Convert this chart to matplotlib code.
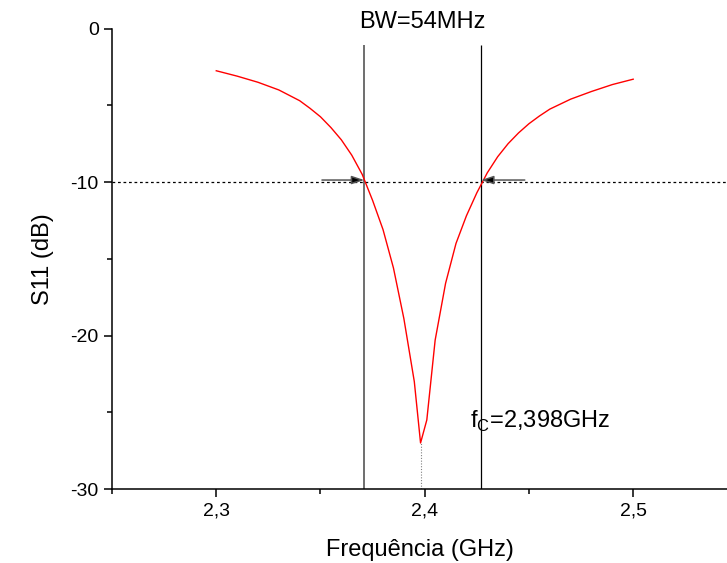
import numpy as np
import matplotlib.pyplot as plt
from matplotlib.ticker import MultipleLocator

plt.rcParams['font.family'] = ['Liberation Sans', 'DejaVu Sans']
plt.rcParams['mathtext.fontset'] = 'custom'
plt.rcParams['mathtext.rm'] = 'Liberation Sans'
plt.rcParams['axes.unicode_minus'] = False

# S11 curve
freq = [2.30, 2.31, 2.32, 2.33, 2.34, 2.345, 2.35, 2.355, 2.36, 2.365,
        2.37, 2.375, 2.38, 2.385, 2.39, 2.395, 2.398, 2.401, 2.405, 2.41,
        2.415, 2.42, 2.425, 2.43, 2.435, 2.44, 2.445, 2.45, 2.455, 2.46,
        2.47, 2.48, 2.49, 2.50]
s11 = [-2.75, -3.1, -3.5, -4.0, -4.7, -5.2, -5.75, -6.45, -7.25, -8.25,
       -9.5, -11.2, -13.1, -15.6, -18.9, -23.0, -27.0, -25.5, -20.3, -16.6,
       -14.0, -12.2, -10.7, -9.4, -8.35, -7.5, -6.8, -6.2, -5.7, -5.25,
       -4.6, -4.1, -3.65, -3.3]

f_low, f_high = 2.371, 2.427
f_c, s11_min = 2.398, -27.0
level = -10
xticks = [2.3, 2.4, 2.5]
xticklabels = ['2,3', '2,4', '2,5']
yticks = [0, -10, -20, -30]

fig = plt.figure(figsize=(7.27, 5.63), dpi=100)
ax = fig.add_axes([0.1541, 0.1314, 0.8459, 0.8179])

ax.plot(freq, s11, color='red', lw=1.0, zorder=3)

ax.axhline(level, color='black', lw=0.9, ls=(0, (2.2, 2.2)))
ax.vlines(f_low, -30, -1.1, color='#6e6e6e', lw=1.4)
ax.vlines(f_high, -30, -1.1, color='black', lw=0.9)
ax.vlines(f_c, -30, s11_min, color='#808080', lw=0.8, ls=(0, (1, 1.5)))

arrow = dict(arrowstyle='-|>,head_length=0.75,head_width=0.25', ec='#555555',
             fc='black', lw=1.1, mutation_scale=10, shrinkA=0, shrinkB=0)
ax.annotate('', xy=(f_low, level + 0.13), xytext=(2.3507, level + 0.13), arrowprops=arrow)
ax.annotate('', xy=(f_high, level + 0.13), xytext=(2.448, level + 0.13), arrowprops=arrow)

ax.text(2.3987, 0.42, 'BW=54MHz', ha='center', va='center', fontsize=17)
ax.text(2.4217, -26.0, r'f$_\mathregular{C}$=2,398GHz', ha='left', va='baseline', fontsize=17)

ax.set_xlim(2.25, 2.545)
ax.set_ylim(-30, 0)
ax.set_xticks(xticks)
ax.set_xticklabels(xticklabels)
ax.set_yticks(yticks)
ax.xaxis.set_minor_locator(MultipleLocator(0.05))
ax.yaxis.set_minor_locator(MultipleLocator(5))
ax.tick_params(which='major', direction='out', length=6, width=1.1, labelsize=14)
ax.tick_params(which='minor', direction='out', length=3.6, width=1.1)
ax.spines['top'].set_visible(False)
ax.spines['right'].set_visible(False)
ax.spines['left'].set_linewidth(1.1)
ax.spines['bottom'].set_linewidth(1.1)

ax.set_xlabel('Frequência (GHz)', fontsize=17, labelpad=14)
ax.set_ylabel('S11 (dB)', fontsize=17, labelpad=12)

fig.savefig('out.png', dpi=100)
